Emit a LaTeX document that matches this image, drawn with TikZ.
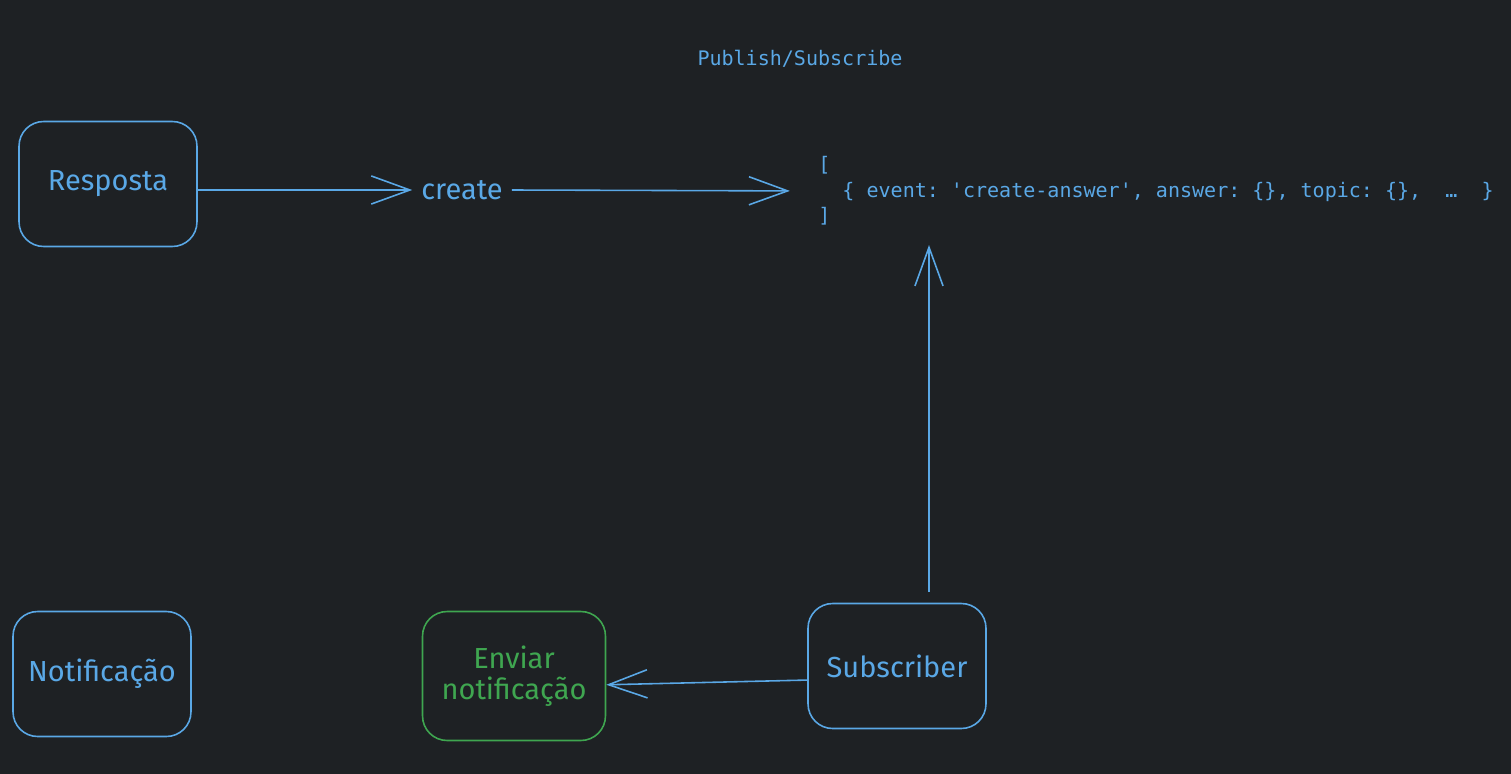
\documentclass[tikz,border=0pt]{standalone}
\usepackage{fontspec}
\setmainfont{Fira Sans}
\setmonofont{DejaVu Sans Mono}
\usepackage{xcolor}
\usetikzlibrary{arrows.meta}
\definecolor{boardBg}{HTML}{1E2124}
\definecolor{sketchBlue}{HTML}{5AA8E6}
\definecolor{sketchGreen}{HTML}{3FA650}

\begin{document}
\begin{tikzpicture}[
    x=0.02cm, y=-0.02cm,
    font=\fontsize{16.5}{18}\selectfont,
    card/.style={draw=sketchBlue, text=sketchBlue, rounded corners=14pt, line width=0.9pt, minimum width=3.56cm, minimum height=2.5cm, align=center},
    label/.style={text=sketchBlue, inner sep=5pt},
    code/.style={text=sketchBlue, font=\ttfamily\fontsize{11.4}{14.5}\selectfont, inner sep=0pt, align=left},
    wire/.style={draw=sketchBlue, line width=0.9pt, -{Straight Barb[length=22pt, width=16pt, line width=0.9pt]}}
  ]
    \fill[boardBg] (0,0) rectangle (1511,774);
    \node[code] (title) at (800,59) {Publish/Subscribe};
    \node[card] (resposta) at (108,184) {Resposta};
    \node[label] (create) at (462,190) {create};
    \node[code, anchor=west] (events) at (818,191) {[\\\hphantom{xx}\{ event: \textquotesingle create-answer\textquotesingle, answer: \{\}, topic: \{\},~~…~~\}\\]};
    \node[card] (notificacao) at (102,674) {Notificação};
    \node[card, draw=sketchGreen, text=sketchGreen, minimum width=3.66cm, minimum height=2.58cm] (enviar) at (514,676) {Enviar\\notificação};
    \node[card] (subscriber) at (897,666) {Subscriber};
    \coordinate (feedIn) at (929,245);
    \draw[wire] (resposta.east |- create.west) -- (create.west);
    \draw[wire, shorten >=16pt] (create.east) -- (events.west);
    \draw[wire, shorten <=6pt] (subscriber.north -| feedIn) -- (feedIn);
    \draw[wire] ([yshift=-8pt]subscriber.west) -- ([yshift=-5pt]enviar.east);
  \end{tikzpicture}
\end{document}
